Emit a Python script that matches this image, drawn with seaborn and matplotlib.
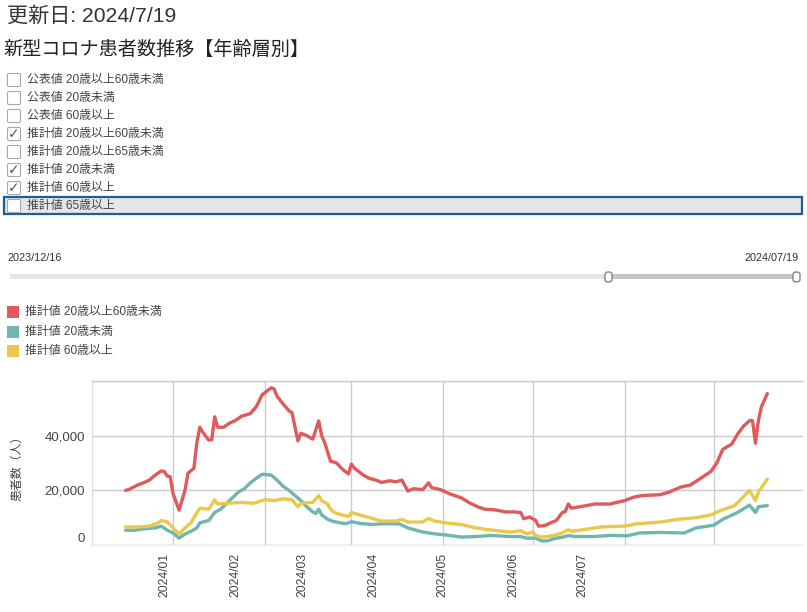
import pandas as pd
import seaborn as sns
import matplotlib.pyplot as plt
import matplotlib.dates as mdates
from matplotlib.patches import Rectangle, FancyBboxPatch

# estimated patients per day, x = days since 2023-12-16
START = pd.Timestamp("2023-12-16")

adult_day = [0, 1, 4, 6, 8, 10, 12, 13, 14, 15, 16, 18, 20, 21, 23, 24, 25, 26, 28, 29,
             30, 31, 33, 35, 37, 39, 41, 42, 44, 46, 49, 50, 51, 53, 55, 56, 58, 59, 61, 63,
             65, 66, 67, 69, 70, 71, 73, 75, 76, 77, 80, 82, 85, 86, 89, 91, 93, 95, 97, 100,
             102, 103, 106, 109, 113, 116, 119, 121, 124, 128, 131, 133, 134, 136, 138, 139, 141, 142, 143, 145,
             147, 148, 149, 150, 153, 158, 163, 168, 171, 174, 180, 183, 187, 190, 193, 197, 199, 201, 204, 206,
             208, 210, 211, 212, 213, 214, 216]
adult_val = [20000, 20250, 21900, 22750, 23750, 25600, 27100, 26900, 25250, 25000, 18750, 12750, 20000, 26250, 28100, 37500, 43100, 41250, 38400, 38500,
             46900, 43100, 43100, 44600, 45600, 47100, 47750, 48100, 50600, 55000, 57500, 57100, 54400, 51600, 49100, 48400, 38100, 40900, 40000, 38750,
             45400, 40000, 37500, 30600, 30400, 30000, 27750, 26000, 29600, 28100, 25600, 24400, 23500, 22900, 23500, 23100, 23750, 19750, 20600, 20250,
             22750, 21000, 20250, 18750, 17250, 15250, 13750, 13100, 12900, 12100, 12100, 11900, 9600, 10250, 9000, 6900, 7100, 7500, 8100, 9000,
             11900, 12250, 15000, 13500, 14000, 15000, 15000, 16250, 17500, 18100, 18400, 19400, 21250, 21900, 24000, 26900, 30000, 35000, 36900, 40600,
             43500, 45500, 45500, 37250, 45600, 50600, 55400]

young_day = [0, 3, 6, 10, 12, 14, 16, 18, 20, 22, 24, 25, 28, 30, 32, 35, 38, 40, 42, 44,
             46, 49, 51, 53, 55, 57, 59, 61, 63, 64, 65, 66, 68, 70, 74, 76, 79, 83, 86, 92,
             95, 100, 104, 109, 113, 118, 123, 129, 133, 135, 138, 140, 142, 144, 148, 149, 151, 158, 163, 169,
             173, 180, 188, 192, 198, 201, 206, 210, 212, 213, 216]
young_val = [5400, 5400, 5900, 6250, 6900, 5400, 4400, 2500, 4000, 5000, 6250, 8100, 9000, 11900, 13100, 16250, 19400, 20600, 22750, 24400,
             25900, 25600, 23750, 21500, 20000, 18100, 16250, 14000, 12100, 11500, 13100, 11000, 9400, 8600, 7750, 8500, 7900, 7500, 7750, 7750,
             6250, 4750, 4100, 3500, 2900, 3100, 3500, 3100, 3100, 2500, 2500, 1500, 1500, 2250, 3100, 3500, 3100, 3100, 3500, 3400,
             4400, 4600, 4400, 6250, 7250, 9400, 11900, 14600, 11900, 14000, 14400]

senior_day = [0, 4, 8, 11, 12, 14, 16, 18, 20, 22, 24, 25, 28, 30, 31, 34, 39, 43, 47, 50,
              53, 56, 58, 59, 63, 65, 66, 68, 69, 70, 71, 75, 76, 79, 83, 86, 91, 93, 95, 100,
              102, 104, 109, 113, 118, 122, 127, 130, 133, 135, 137, 138, 140, 142, 144, 147, 149, 150, 154, 160,
              168, 172, 180, 186, 192, 197, 200, 205, 208, 210, 212, 213, 216]
senior_val = [6600, 6600, 6900, 8100, 9000, 8500, 6250, 4000, 6250, 8100, 11900, 13500, 13100, 16500, 15000, 15250, 15600, 15250, 16600, 16250,
              16900, 16600, 14000, 15250, 15600, 18100, 16250, 15000, 13100, 12100, 11600, 10400, 11900, 10900, 9750, 8750, 8750, 9400, 8400, 8400,
              9750, 8750, 7900, 7500, 6250, 5600, 5000, 4750, 5250, 4100, 4750, 3500, 2900, 3100, 3500, 4400, 5600, 5000, 5600, 6600,
              6900, 7750, 8400, 9400, 10000, 11000, 12500, 14400, 17750, 20000, 16250, 19400, 24100]

series_names = ["推計値 20歳以上60歳未満", "推計値 20歳未満", "推計値 60歳以上"]
series_colors = ["#de5a5d", "#6fb7ae", "#eac84a"]

checklist = ["公表値 20歳以上60歳未満", "公表値 20歳未満", "公表値 60歳以上",
             "推計値 20歳以上60歳未満", "推計値 20歳以上65歳未満", "推計値 20歳未満",
             "推計値 60歳以上", "推計値 65歳以上"]
checked = [False, False, False, True, False, True, True, False]

month_starts = pd.date_range("2024-01-01", "2024-07-01", freq="MS")
month_labels = [m.strftime("%Y/%m") for m in month_starts]

frames = []
for name, days, vals in zip(series_names, [adult_day, young_day, senior_day],
                            [adult_val, young_val, senior_val]):
    frames.append(pd.DataFrame({
        "date": START + pd.to_timedelta(days, unit="D"),
        "value": vals,
        "series": name,
    }))
df = pd.concat(frames, ignore_index=True)

sns.set_style("white")
JP = ["Liberation Sans", "Noto Sans CJK JP", "DejaVu Sans"]
plt.rcParams["font.family"] = JP

W, H = 807, 612
TXT = "#444444"
GRID = "#cccccc"


def fx(x):
    return x / W


def fy(y):
    return 1 - y / H


fig = plt.figure(figsize=(W / 100, H / 100), dpi=100)

# header
fig.text(fx(7), fy(16), "更新日: 2024/7/19", fontsize=15.2, color="#333333",
         ha="left", va="center", family=JP)
fig.text(fx(3), fy(50), "新型コロナ患者数推移【年齢層別】", fontsize=13.8, color="#222222",
         ha="left", va="center", family=JP)

# checklist with highlighted last row
fig.add_artist(Rectangle((fx(4), fy(214)), 798 / W, 17 / H, transform=fig.transFigure,
                         facecolor="#e6e6e6", edgecolor="#1c5d9a", linewidth=1.6))
for i, (label, on) in enumerate(zip(checklist, checked)):
    yc = 80 + i * 18.0
    fig.add_artist(FancyBboxPatch((fx(7.5), fy(yc + 6.5)), 13 / W, 13 / H,
                                  boxstyle="round,pad=0,rounding_size=0.002",
                                  transform=fig.transFigure, facecolor="white",
                                  edgecolor="#a8a8a8", linewidth=0.8))
    if on:
        fig.text(fx(14), fy(yc), "✓", fontsize=10, color="#555555", ha="center",
                 va="center", family=["DejaVu Sans"])
    fig.text(fx(27), fy(yc), label, fontsize=8.6, color=TXT, ha="left", va="center", family=JP)

# range slider
fig.text(fx(8), fy(258), "2023/12/16", fontsize=7.8, color="#333333", ha="left", va="center")
fig.text(fx(799), fy(258), "2024/07/19", fontsize=7.8, color="#333333", ha="right", va="center")
fig.add_artist(Rectangle((fx(10), fy(279.5)), 597 / W, 5 / H, transform=fig.transFigure,
                         facecolor="#e6e6e6", edgecolor="none"))
fig.add_artist(Rectangle((fx(608), fy(279.5)), 188 / W, 5 / H, transform=fig.transFigure,
                         facecolor="#c6c6c6", edgecolor="none"))
for hx in [605, 793]:
    fig.add_artist(FancyBboxPatch((fx(hx), fy(282)), 7 / W, 10 / H,
                                  boxstyle="round,pad=0,rounding_size=0.004",
                                  transform=fig.transFigure, facecolor="white",
                                  edgecolor="#777777", linewidth=0.9))

# legend
for i, (name, col) in enumerate(zip(series_names, series_colors)):
    yc = 312 + i * 19.5
    fig.add_artist(Rectangle((fx(7), fy(yc + 6)), 12 / W, 12 / H, transform=fig.transFigure,
                             facecolor=col, edgecolor="none"))
    fig.text(fx(25), fy(yc), name, fontsize=8.6, color=TXT, ha="left", va="center", family=JP)

# chart
ax = fig.add_axes([fx(92), fy(545), 711 / W, 164 / H])
sns.lineplot(data=df, x="date", y="value", hue="series", hue_order=series_names,
             palette=series_colors, linewidth=2.4, errorbar=None, legend=False, ax=ax)

lo = mdates.date2num(START - pd.Timedelta(days=11.3))
hi = mdates.date2num(START + pd.Timedelta(days=228))
ax.set_xlim(lo, hi)
ax.set_ylim(0, 60000)

ax.set_xticks(mdates.date2num(month_starts), minor=True)
label_px = [164.5, 235, 302, 373, 442, 513, 582]
ax.set_xticks([lo + (p - 92) / 711 * (hi - lo) for p in label_px])
ax.set_xticklabels(month_labels, rotation=90, fontsize=8.8, color=TXT)
ax.set_yticks([0, 20000, 40000, 60000])
ax.set_yticklabels(["0", "20,000", "40,000", ""], fontsize=9.5, color=TXT)
ax.get_yticklabels()[0].set_va("bottom")

ax.grid(False, which="major", axis="x")
ax.grid(True, which="minor", axis="x", color=GRID, linewidth=1)
ax.grid(True, which="major", axis="y", color=GRID, linewidth=1)
ax.tick_params(axis="both", which="both", length=0)
ax.tick_params(axis="x", pad=6)
ax.tick_params(axis="y", pad=5)
ax.set_xlabel("")
ax.set_ylabel("")
ax.spines["right"].set_visible(False)
ax.spines["top"].set_color(GRID)
ax.spines["left"].set_color("#dddddd")
ax.spines["bottom"].set_color("#eeeeee")
for s in ax.spines.values():
    s.set_linewidth(1)

fig.text(fx(17), fy(465), "患者数（人）", fontsize=8.6, color=TXT, rotation=90,
         ha="center", va="center", family=JP)

fig.savefig("out.png", dpi=100)
